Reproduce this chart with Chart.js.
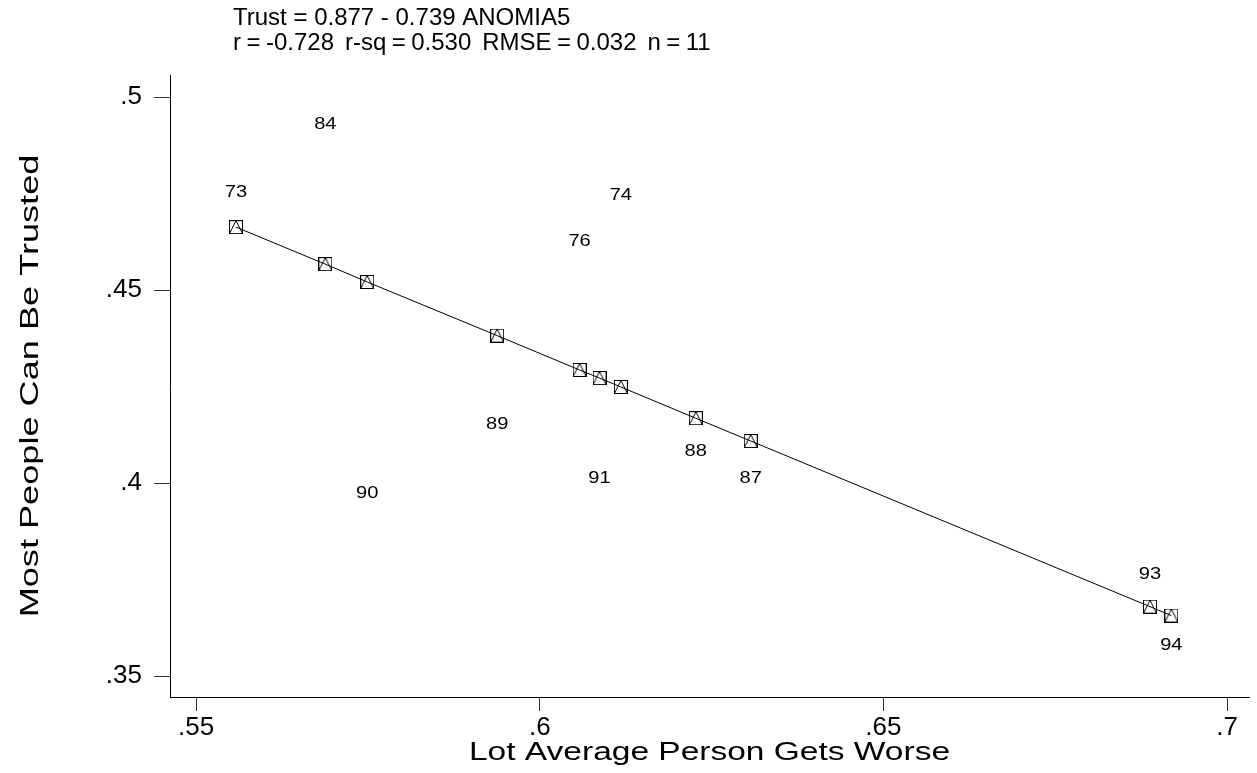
<!DOCTYPE html>
<html>
<head>
<meta charset="utf-8">
<script src="https://cdn.jsdelivr.net/npm/chart.js@4.4.1/dist/chart.umd.min.js"></script>
<style>
  html, body { margin: 0; padding: 0; background: #ffffff; }
  #wrap { width: 1257px; height: 773px; }
</style>
</head>
<body>
<div id="wrap"><canvas id="c" width="1257" height="773"></canvas></div>
<script>
// Survey years (point labels), anomia share (x), trust share (y), and the fitted trust values
const years   = ['73', '84', '90', '89', '76', '91', '74', '88', '87', '93', '94'];
const anomia  = [0.5558, 0.5688, 0.5749, 0.5938, 0.6058, 0.6087, 0.6118, 0.6227, 0.6307, 0.6888, 0.6919];
const trust   = [0.4754, 0.4930, 0.3974, 0.4153, 0.4627, 0.4013, 0.4744, 0.4083, 0.4013, 0.3764, 0.3580];
const fitted  = [0.4663, 0.4567, 0.4521, 0.4382, 0.4293, 0.4272, 0.4249, 0.4168, 0.4109, 0.3680, 0.3657];

const xTicks = [0.55, 0.6, 0.65, 0.7];
const yTicks = [0.35, 0.4, 0.45, 0.5];

const titleLines = [
  'Trust = 0.877 - 0.739 ANOMIA5',
  'r = -0.728  r-sq = 0.530  RMSE = 0.032  n = 11'
];
const xTitle = 'Lot Average Person Gets Worse';
const yTitle = 'Most People Can Be Trusted';

const FONT = '"Liberation Sans", Arial, Helvetica, sans-serif';

// Hollow square with a triangle inside, used for the fitted values
function makeMarker() {
  const s = 14;
  const cv = document.createElement('canvas');
  cv.width = s; cv.height = s;
  const g = cv.getContext('2d');
  g.strokeStyle = '#000';
  g.lineWidth = 1;
  g.strokeRect(0.5, 0.5, s - 1, s - 1);
  g.beginPath();
  g.moveTo(s / 2, 0.5);
  g.lineTo(0.5, s - 0.5);
  g.moveTo(s / 2, 0.5);
  g.lineTo(s - 0.5, s - 0.5);
  g.stroke();
  return cv;
}

// Draw text widened along its own direction
function wideText(ctx, text, x, y, size, sx, align) {
  ctx.save();
  ctx.font = size + 'px ' + FONT;
  ctx.translate(x, y);
  ctx.scale(sx, 1);
  ctx.textAlign = align;
  ctx.fillText(text, 0, 0);
  ctx.restore();
}

const observed = anomia.map((x, i) => ({ x: x, y: trust[i] }));
const fitLine  = anomia.map((x, i) => ({ x: x, y: fitted[i] }));

// Year labels centred on each observed point, plus titles
const textPlugin = {
  id: 'texts',
  afterDatasetsDraw(chart) {
    const ctx = chart.ctx;
    const meta = chart.getDatasetMeta(0);
    ctx.save();
    ctx.fillStyle = '#000';
    ctx.textBaseline = 'middle';
    meta.data.forEach((pt, i) => {
      wideText(ctx, years[i], pt.x, pt.y, 16.5, 1.22, 'center');
    });
    ctx.restore();
  },
  afterDraw(chart) {
    const ctx = chart.ctx;
    const area = chart.chartArea;
    ctx.save();
    ctx.fillStyle = '#000';
    ctx.textBaseline = 'alphabetic';

    ctx.font = '24px ' + FONT;
    ctx.textAlign = 'left';
    ctx.fillText(titleLines[0], 233, 25);
    if ('wordSpacing' in ctx) ctx.wordSpacing = '-1.2px';
    ctx.fillText(titleLines[1], 233, 50);
    if ('wordSpacing' in ctx) ctx.wordSpacing = '0px';

    wideText(ctx, xTitle, (area.left + area.right) / 2, 760, 25, 1.34, 'center');

    ctx.translate(38, (area.top + area.bottom) / 2);
    ctx.rotate(-Math.PI / 2);
    wideText(ctx, yTitle, 0, 0, 26, 1.39, 'center');
    ctx.restore();
  }
};

const fmt = v => String(v).replace(/^0\./, '.');

new Chart(document.getElementById('c'), {
  type: 'scatter',
  data: {
    datasets: [
      {
        label: 'Trust',
        data: observed,
        pointRadius: 0,
        pointHoverRadius: 0,
        showLine: false
      },
      {
        label: 'Fitted',
        data: fitLine,
        showLine: true,
        borderColor: '#000',
        borderWidth: 1,
        pointStyle: makeMarker(),
        pointRadius: 7,
        tension: 0
      }
    ]
  },
  options: {
    responsive: false,
    animation: false,
    devicePixelRatio: 1,
    layout: { padding: { top: 75, right: 7, left: 0, bottom: 0 } },
    plugins: {
      legend: { display: false },
      tooltip: { enabled: false },
      title: { display: false }
    },
    scales: {
      x: {
        type: 'linear',
        min: 0.5462,
        max: 0.7032,
        afterBuildTicks: s => { s.ticks = xTicks.map(v => ({ value: v })); },
        afterFit: s => { s.height = 76; },
        ticks: {
          callback: v => fmt(v),
          color: '#000',
          font: { family: FONT, size: 26 },
          padding: 1,
          maxRotation: 0,
          autoSkip: false
        },
        grid: { drawOnChartArea: false, drawTicks: true, tickLength: 14, color: '#333' },
        border: { display: true, color: '#000', width: 1 }
      },
      y: {
        type: 'linear',
        min: 0.3446,
        max: 0.5057,
        afterBuildTicks: s => { s.ticks = yTicks.map(v => ({ value: v })); },
        afterFit: s => { s.width = 170; },
        ticks: {
          callback: v => fmt(v),
          color: '#000',
          font: { family: FONT, size: 26 },
          padding: 12,
          autoSkip: false
        },
        grid: { drawOnChartArea: false, drawTicks: true, tickLength: 16, color: '#333' },
        border: { display: true, color: '#000', width: 1 }
      }
    }
  },
  plugins: [textPlugin]
});
</script>
</body>
</html>
